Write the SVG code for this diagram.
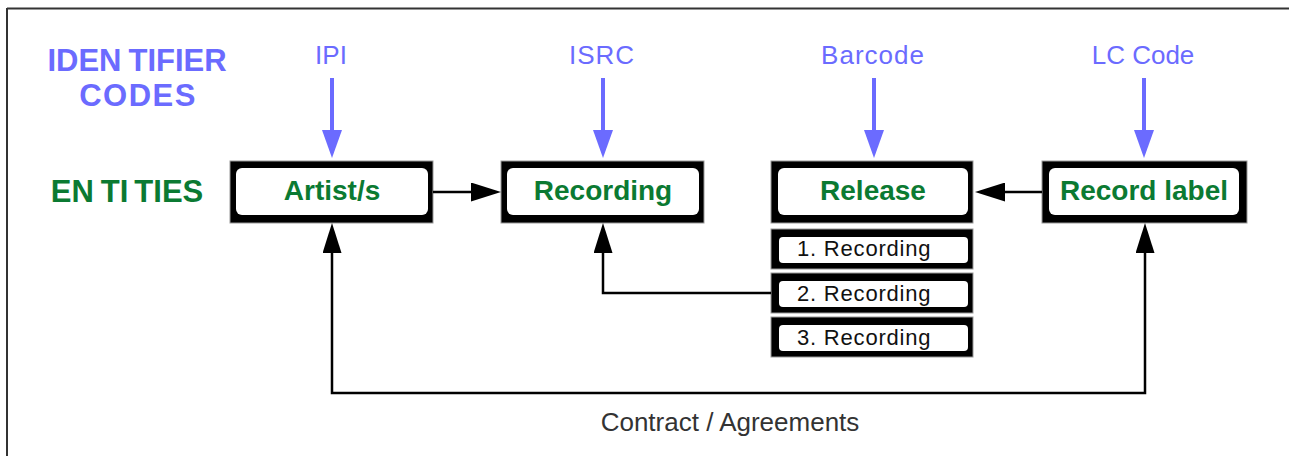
<svg xmlns="http://www.w3.org/2000/svg" width="1289" height="456" viewBox="0 0 1289 456">
  <style>
    .frame { stroke: #333; stroke-width: 2; fill: none; }
    .outer { fill: #000; stroke: #999; stroke-width: 1; }
    .inner { fill: #fff; }
    .ent { font-family: "Liberation Sans", Arial, sans-serif; font-weight: bold; font-size: 28px; fill: #0b7a32; text-anchor: middle; }
    .sub { font-family: "Liberation Sans", Arial, sans-serif; font-size: 22px; letter-spacing: 0.8px; fill: #111; }
    .code { font-family: "Liberation Sans", Arial, sans-serif; font-size: 26px; fill: #6b6bff; text-anchor: middle; }
    .head { font-family: "Liberation Sans", Arial, sans-serif; font-weight: bold; font-size: 31px; text-anchor: middle; }
    .blue { stroke: #6b6bff; stroke-width: 4; fill: none; }
    .link { stroke: #000; stroke-width: 2.5; fill: none; }
  </style>
  <defs>
    <marker id="blueHead" markerUnits="userSpaceOnUse" markerWidth="28" markerHeight="20" viewBox="0 0 28 20" refX="10" refY="10" orient="auto">
      <path d="M0,0 L28,10 L0,20 Z" fill="#6b6bff"/>
    </marker>
    <marker id="blackHead" markerUnits="userSpaceOnUse" markerWidth="30" markerHeight="19" viewBox="0 0 30 19" refX="8" refY="9.5" orient="auto-start-reverse">
      <path d="M0,0 L30,9.5 L0,19 Z" fill="#000"/>
    </marker>
  </defs>

  <!-- page frame: top and left rules only -->
  <g id="frame">
    <line x1="7" y1="8.5" x2="1289" y2="8.5" class="frame"/>
    <line x1="7" y1="8" x2="7" y2="456" class="frame"/>
  </g>

  <!-- row headings -->
  <g id="heading-codes" class="head" fill="#6b6bff">
    <text x="137" y="71">IDEN<tspan dx="7">TIFIER</tspan></text>
    <text x="138" y="106" letter-spacing="1.5">CODES</text>
  </g>
  <g id="heading-entities" class="head" fill="#0b7a32">
    <text x="127" y="202">EN<tspan dx="7">TI</tspan><tspan dx="6">TIES</tspan></text>
  </g>

  <!-- identifier codes -->
  <g id="code-ipi"><text class="code" x="331" y="64">IPI</text></g>
  <g id="code-isrc"><text class="code" x="602" y="64" letter-spacing="1">ISRC</text></g>
  <g id="code-barcode"><text class="code" x="873" y="64" letter-spacing="1">Barcode</text></g>
  <g id="code-lc"><text class="code" x="1143" y="64">LC Code</text></g>

  <!-- entities -->
  <g id="artist">
    <rect class="outer" x="230" y="161" width="203" height="62"/>
    <rect class="inner" x="236" y="168" width="192" height="47" rx="6"/>
    <text class="ent" x="332" y="200">Artist/s</text>
  </g>
  <g id="recording">
    <rect class="outer" x="501" y="161" width="203" height="62"/>
    <rect class="inner" x="507" y="168" width="192" height="47" rx="6"/>
    <text class="ent" x="603" y="200">Recording</text>
  </g>
  <g id="release">
    <rect class="outer" x="771" y="161" width="202" height="62"/>
    <rect class="inner" x="778" y="168" width="190" height="47" rx="6"/>
    <text class="ent" x="873" y="200">Release</text>
  </g>
  <g id="record-label">
    <rect class="outer" x="1042" y="161" width="205" height="62"/>
    <rect class="inner" x="1049" y="168" width="190" height="47" rx="6"/>
    <text class="ent" x="1144" y="200">Record label</text>
  </g>

  <!-- release track list -->
  <g id="track-1">
    <rect class="outer" x="771" y="229" width="202" height="40"/>
    <rect class="inner" x="779" y="237" width="189" height="26" rx="4"/>
    <text class="sub" x="797" y="256">1. Recording</text>
  </g>
  <g id="track-2">
    <rect class="outer" x="771" y="273" width="202" height="40"/>
    <rect class="inner" x="779" y="281" width="189" height="26" rx="4"/>
    <text class="sub" x="797" y="301">2. Recording</text>
  </g>
  <g id="track-3">
    <rect class="outer" x="771" y="317" width="202" height="40"/>
    <rect class="inner" x="779" y="325" width="189" height="26" rx="4"/>
    <text class="sub" x="797" y="345">3. Recording</text>
  </g>

  <!-- connectors -->
  <g id="connectors">
    <line class="blue" x1="332" y1="78" x2="332" y2="140" marker-end="url(#blueHead)"/>
    <line class="blue" x1="603" y1="78" x2="603" y2="140" marker-end="url(#blueHead)"/>
    <line class="blue" x1="874" y1="78" x2="874" y2="140" marker-end="url(#blueHead)"/>
    <line class="blue" x1="1144" y1="78" x2="1144" y2="140" marker-end="url(#blueHead)"/>

    <path class="link" d="M433,192 H479" marker-end="url(#blackHead)"/>
    <path class="link" d="M1042,192 H997" marker-end="url(#blackHead)"/>
    <path class="link" d="M771,293 H603 V245" marker-end="url(#blackHead)"/>
    <path class="link" d="M332,245 V393 H1145 V245" marker-start="url(#blackHead)" marker-end="url(#blackHead)"/>
    <text x="730" y="431" font-family="'Liberation Sans', Arial, sans-serif" font-size="26" fill="#333" text-anchor="middle">Contract / Agreements</text>
  </g>
</svg>
